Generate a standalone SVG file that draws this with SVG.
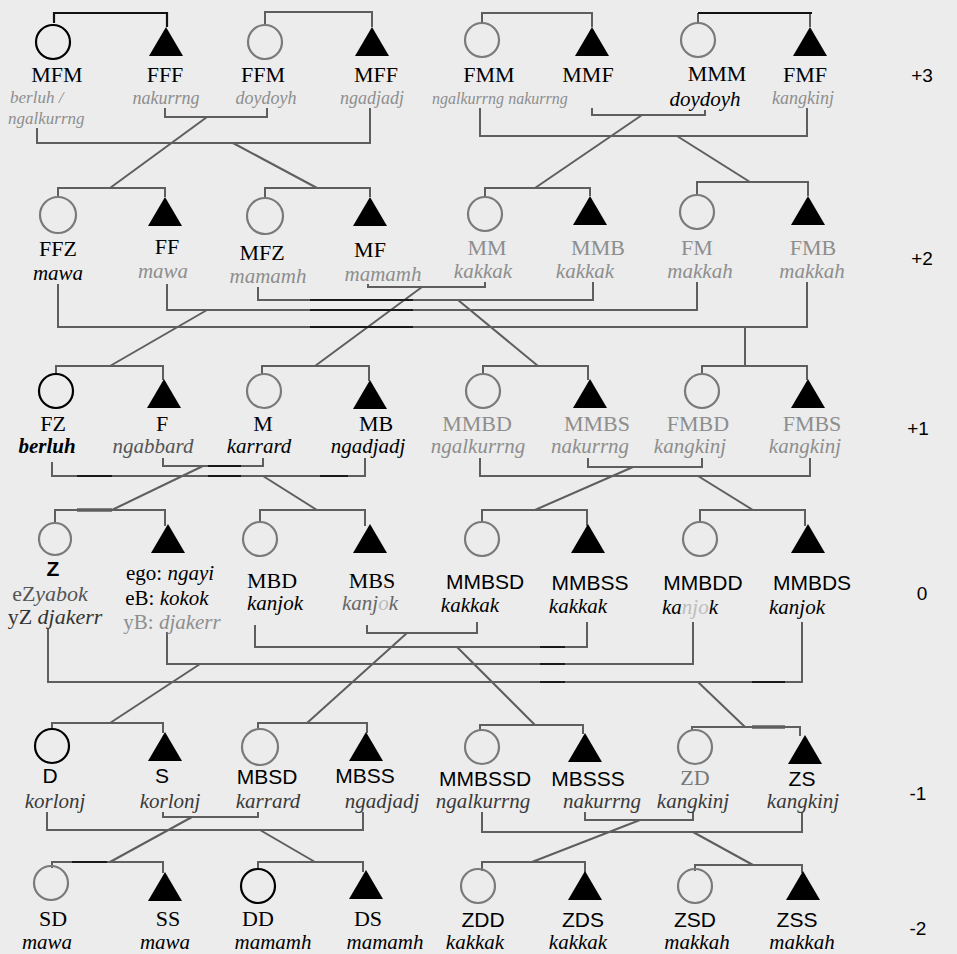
<svg xmlns="http://www.w3.org/2000/svg" width="957" height="954" viewBox="0 0 957 954">
<style>
.ln{fill:none;stroke:#5e5e5e;stroke-width:2}
.bk{fill:none;stroke:#111;stroke-width:2.2}
.dk{fill:none;stroke:#1a1a1a;stroke-width:2}
.cg{fill:none;stroke:#7a7a7a;stroke-width:2.2}
.cb{fill:none;stroke:#000;stroke-width:2.2}
.tri{fill:#000}
.lb{font-family:"Liberation Serif",serif;font-size:22px;text-anchor:middle;fill:#000}
.ls{font-family:"Liberation Sans",sans-serif;font-size:21px;text-anchor:middle;fill:#000}
.tm{font-family:"Liberation Serif",serif;font-style:italic;font-size:21px;text-anchor:middle;fill:#000}
.g{fill:#8e8e8e}
.m{fill:#3a3a3a}
.lv{font-family:"Liberation Sans",sans-serif;font-size:19px;text-anchor:middle;fill:#000}
</style>
<defs>
<path id="tr" d="M0,-15 L17,14 L-17,14 Z"/>
</defs>
<rect width="957" height="954" fill="#ececec"/>

<g id="connectors">
<path class="bk" d="M54,23 V13 H167 V27"/>
<path class="ln" d="M265,24 V12 H372 V27"/>
<path class="ln" d="M482,22 V13 H592 V27"/>
<path class="ln" d="M698,22 V13 M810,13 V27"/>
<path class="bk" d="M698,13 H812"/>
<path class="ln" d="M165,108 V117 H267 V108"/>
<path class="ln" d="M207,117 L110,188"/>
<path class="ln" d="M37,128 V143 H370 V108"/>
<path class="ln" d="M233,143 L317,188"/>
<path class="ln" d="M592,108 V115 H705 V110"/>
<path class="ln" d="M642,115 L535,188"/>
<path class="ln" d="M480,108 V136 H807 V108"/>
<path class="ln" d="M677,136 L750,182"/>
<path class="ln" d="M58,197 V188 H165 V197"/>
<path class="ln" d="M265,198 V188 H370 V197"/>
<path class="ln" d="M485,197 V188 H590 V196"/>
<path class="ln" d="M697,195 V182 H808 V196"/>
<path class="ln" d="M167,284 V310 H697 V282"/>
<path class="ln" d="M207,310 L110,366"/>
<path class="ln" d="M368,284 V287 H485 V282"/>
<path class="ln" d="M422,287 L315,366"/>
<path class="ln" d="M258,287 V300 H593 V282"/>
<path class="ln" d="M458,300 L538,366"/>
<path class="ln" d="M58,284 V327 H807 V282"/>
<path class="ln" d="M745,327 V366"/>
<path class="dk" d="M310,300 H413 M310,310 H413 M310,327 H413"/>
<path class="ln" d="M56,375 V366 H163 V380"/>
<path class="ln" d="M262,375 V366 H369 V381"/>
<path class="ln" d="M483,375 V366 H588 V380"/>
<path class="ln" d="M702,375 V366 H807 V380"/>
<path class="ln" d="M163,458 V466 H263 V458"/>
<path class="ln" d="M203,466 L112,510"/>
<path class="ln" d="M52,462 V476 H365 V458"/>
<path class="ln" d="M263,476 L317,510"/>
<path class="ln" d="M588,458 V467 H702 V458"/>
<path class="ln" d="M633,467 L535,510"/>
<path class="ln" d="M480,458 V476 H810 V458"/>
<path class="ln" d="M698,476 L753,510"/>
<path class="dk" d="M208,466 H241 M77,476 H112 M208,476 H241 M320,476 H348 M320,510 H348"/>
<path class="dk" d="M77,510 H112" style="stroke-width:3"/>
<path class="ln" d="M55,523 V510 H165 V526"/>
<path class="ln" d="M260,523 V510 H365 V526"/>
<path class="ln" d="M482,523 V510 H587 V526"/>
<path class="ln" d="M700,523 V510 H805 V526"/>
<path class="ln" d="M367,625 V633 H477 V622"/>
<path class="ln" d="M407,633 L307,723"/>
<path class="ln" d="M255,625 V647 H587 V622"/>
<path class="ln" d="M457,647 L535,725"/>
<path class="ln" d="M167,632 V664 H693 V622"/>
<path class="ln" d="M200,664 L110,723"/>
<path class="ln" d="M48,628 V682 H802 V622"/>
<path class="ln" d="M698,682 L745,727"/>
<path class="dk" d="M540,647 H565 M540,664 H565 M540,682 H565 M752,682 H785 M540,725 H565 M282,723 H308"/>
<path class="dk" d="M752,727 H785" style="stroke-width:3"/>
<path class="ln" d="M52,730 V723 H163 V733"/>
<path class="ln" d="M258,730 V723 H367 V733"/>
<path class="ln" d="M480,730 V725 H583 V734"/>
<path class="ln" d="M692,730 V727 H800 V736"/>
<path class="ln" d="M47,812 V830 H363 V812"/>
<path class="ln" d="M260,830 L315,862"/>
<path class="ln" d="M163,812 V817 H258 V812"/>
<path class="ln" d="M192,817 L110,862"/>
<path class="ln" d="M482,812 V832 H802 V812"/>
<path class="ln" d="M693,832 L753,865"/>
<path class="ln" d="M585,812 V820 H693 V812"/>
<path class="ln" d="M640,820 L532,862"/>
<path class="ln" d="M52,868 V862 H163 V873"/>
<path class="dk" d="M72,862 H107"/>
<path class="ln" d="M258,870 V862 H363 V872"/>
<path class="ln" d="M482,871 V862 H585 V873"/>
<path class="ln" d="M695,871 V865 H802 V873"/>
</g>

<g id="MFM"><circle class="cb" cx="53" cy="42" r="17"/><text class="lb" x="57" y="82">MFM</text><text class="tm g" x="10" y="103" style="text-anchor:start;font-size:17px">berluh /</text><text class="tm g" x="8" y="124" style="text-anchor:start;font-size:17px">ngalkurrng</text></g>
<g id="FFF"><use href="#tr" class="tri" x="166" y="42"/><text class="lb" x="165" y="82">FFF</text><text class="tm g" x="166" y="104" style="font-size:18px">nakurrng</text></g>
<g id="FFM"><circle class="cg" cx="265" cy="42" r="17"/><text class="lb" x="263" y="82">FFM</text><text class="tm g" x="266" y="104" style="font-size:18px">doydoyh</text></g>
<g id="MFF"><use href="#tr" class="tri" x="372" y="42"/><text class="lb" x="376" y="82">MFF</text><text class="tm g" x="372" y="104" style="font-size:18px">ngadjadj</text></g>
<g id="FMM"><circle class="cg" cx="482" cy="40" r="17"/><text class="lb" x="489" y="82">FMM</text><text class="tm g" x="468" y="104" style="font-size:16px">ngalkurrng</text></g>
<g id="MMF"><use href="#tr" class="tri" x="592" y="42"/><text class="lb" x="588" y="82">MMF</text><text class="tm g" x="538" y="104" style="font-size:16px">nakurrng</text></g>
<g id="MMM"><circle class="cg" cx="698" cy="40" r="17"/><text class="lb" x="717" y="81">MMM</text><text class="tm" x="705" y="106">doydoyh</text></g>
<g id="FMF"><use href="#tr" class="tri" x="810" y="42"/><text class="lb" x="805" y="82">FMF</text><text class="tm g" x="803" y="104" style="font-size:18px">kangkinj</text></g>

<g id="FFZ"><circle class="cg" cx="58" cy="215" r="18"/><text class="lb" x="58" y="256">FFZ</text><text class="tm" x="58" y="280">mawa</text></g>
<g id="FF"><use href="#tr" class="tri" x="165" y="212"/><text class="lb" x="167" y="254">FF</text><text class="tm g" x="163" y="278">mawa</text></g>
<g id="MFZ"><circle class="cg" cx="265" cy="216" r="18"/><text class="lb" x="262" y="260">MFZ</text><text class="tm g" x="268" y="283">mamamh</text></g>
<g id="MF"><use href="#tr" class="tri" x="370" y="212"/><text class="lb" x="370" y="257">MF</text><text class="tm g" x="383" y="281">mamamh</text></g>
<g id="MM"><circle class="cg" cx="485" cy="214" r="17"/><text class="lb g" x="487" y="255">MM</text><text class="tm g" x="483" y="278">kakkak</text></g>
<g id="MMB"><use href="#tr" class="tri" x="590" y="211"/><text class="lb g" x="598" y="255">MMB</text><text class="tm g" x="585" y="278">kakkak</text></g>
<g id="FM"><circle class="cg" cx="697" cy="212" r="17"/><text class="lb g" x="697" y="255">FM</text><text class="tm g" x="700" y="278">makkah</text></g>
<g id="FMB"><use href="#tr" class="tri" x="808" y="211"/><text class="lb g" x="813" y="255">FMB</text><text class="tm g" x="812" y="278">makkah</text></g>

<g id="FZ"><circle class="cb" cx="56" cy="391" r="17"/><text class="lb" x="53" y="431">FZ</text><text class="tm" x="47" y="453" style="font-weight:bold">berluh</text></g>
<g id="F"><use href="#tr" class="tri" x="164" y="394"/><text class="lb" x="162" y="431">F</text><text class="tm" x="153" y="453" style="fill:#555">ngabbard</text></g>
<g id="M"><circle class="cg" cx="264" cy="391" r="17"/><text class="lb" x="263" y="431">M</text><text class="tm" x="259" y="453">karrard</text></g>
<g id="MB"><use href="#tr" class="tri" x="370" y="395"/><text class="lb" x="376" y="431">MB</text><text class="tm" x="368" y="453">ngadjadj</text></g>
<g id="MMBD"><circle class="cg" cx="483" cy="391" r="17"/><text class="lb g" x="477" y="431">MMBD</text><text class="tm g" x="478" y="453">ngalkurrng</text></g>
<g id="MMBS"><use href="#tr" class="tri" x="590" y="394"/><text class="lb g" x="597" y="431">MMBS</text><text class="tm g" x="590" y="453">nakurrng</text></g>
<g id="FMBD"><circle class="cg" cx="702" cy="391" r="17"/><text class="lb g" x="698" y="431">FMBD</text><text class="tm g" x="690" y="453">kangkinj</text></g>
<g id="FMBS"><use href="#tr" class="tri" x="808" y="394"/><text class="lb g" x="812" y="431">FMBS</text><text class="tm g" x="805" y="453">kangkinj</text></g>

<g id="Z"><circle class="cg" cx="55" cy="539" r="16"/><text class="ls" x="53" y="576" style="font-weight:bold">Z</text><text class="lb" x="50" y="601" style="fill:#555">eZ<tspan font-style="italic">yabok</tspan></text><text class="lb" x="55" y="624" style="fill:#333">yZ <tspan font-style="italic">djakerr</tspan></text></g>
<g id="ego"><use href="#tr" class="tri" x="168" y="539"/><text class="lb" x="170" y="580" style="font-size:21px">ego: <tspan font-style="italic">ngayi</tspan></text><text class="lb" x="167" y="605" style="font-size:21px">eB: <tspan font-style="italic">kokok</tspan></text><text class="lb g" x="172" y="629" style="font-size:21px">yB: <tspan font-style="italic">djakerr</tspan></text></g>
<g id="MBD"><circle class="cg" cx="260" cy="539" r="17"/><text class="lb" x="272" y="588">MBD</text><text class="tm" x="275" y="610">kanjok</text></g>
<g id="MBS"><use href="#tr" class="tri" x="370" y="539"/><text class="lb" x="372" y="588">MBS</text><text class="tm" x="370" y="610" style="fill:#666">kanj<tspan fill="#bbb">o</tspan>k</text></g>
<g id="MMBSD"><circle class="cg" cx="482" cy="539" r="17"/><text class="ls" x="485" y="589">MMBSD</text><text class="tm" x="470" y="612">kakkak</text></g>
<g id="MMBSS"><use href="#tr" class="tri" x="588" y="539"/><text class="ls" x="590" y="590">MMBSS</text><text class="tm" x="578" y="613">kakkak</text></g>
<g id="MMBDD"><circle class="cg" cx="700" cy="539" r="17"/><text class="ls" x="703" y="590">MMBDD</text><text class="tm" x="690" y="614">ka<tspan fill="#bdbdbd">njo</tspan>k</text></g>
<g id="MMBDS"><use href="#tr" class="tri" x="808" y="539"/><text class="ls" x="812" y="590">MMBDS</text><text class="tm" x="797" y="614">kanjok</text></g>

<g id="D"><circle class="cb" cx="52" cy="746" r="17"/><text class="ls" x="50" y="783">D</text><text class="tm m" x="55" y="808">korlonj</text></g>
<g id="S"><use href="#tr" class="tri" x="165" y="747"/><text class="ls" x="162" y="783">S</text><text class="tm m" x="170" y="808">korlonj</text></g>
<g id="MBSD"><circle class="cg" cx="260" cy="747" r="18"/><text class="ls" x="267" y="784">MBSD</text><text class="tm m" x="268" y="808">karrard</text></g>
<g id="MBSS"><use href="#tr" class="tri" x="366" y="747"/><text class="ls" x="365" y="783">MBSS</text><text class="tm m" x="382" y="808">ngadjadj</text></g>
<g id="MMBSSD"><circle class="cg" cx="482" cy="747" r="17"/><text class="ls" x="485" y="786">MMBSSD</text><text class="tm m" x="483" y="808">ngalkurrng</text></g>
<g id="MBSSS"><use href="#tr" class="tri" x="585" y="748"/><text class="ls" x="588" y="786">MBSSS</text><text class="tm m" x="602" y="808">nakurrng</text></g>
<g id="ZD"><circle class="cg" cx="695" cy="747" r="17"/><text class="lb" x="695" y="785" style="fill:#777">ZD</text><text class="tm m" x="693" y="808">kangkinj</text></g>
<g id="ZS"><use href="#tr" class="tri" x="805" y="750"/><text class="ls" x="802" y="786">ZS</text><text class="tm m" x="803" y="808">kangkinj</text></g>

<g id="SD"><circle class="cg" cx="51" cy="883" r="17"/><text class="lb" x="53" y="926">SD</text><text class="tm" x="47" y="949">mawa</text></g>
<g id="SS"><use href="#tr" class="tri" x="165" y="887"/><text class="lb" x="168" y="926">SS</text><text class="tm" x="165" y="949">mawa</text></g>
<g id="DD"><circle class="cb" cx="258" cy="886" r="17"/><text class="lb" x="258" y="926">DD</text><text class="tm" x="273" y="949">mamamh</text></g>
<g id="DS"><use href="#tr" class="tri" x="366" y="885"/><text class="lb" x="368" y="926">DS</text><text class="tm" x="385" y="949">mamamh</text></g>
<g id="ZDD"><circle class="cg" cx="478" cy="886" r="17"/><text class="ls" x="483" y="927">ZDD</text><text class="tm" x="475" y="949">kakkak</text></g>
<g id="ZDS"><use href="#tr" class="tri" x="585" y="886"/><text class="ls" x="583" y="927">ZDS</text><text class="tm" x="578" y="949">kakkak</text></g>
<g id="ZSD"><circle class="cg" cx="695" cy="886" r="17"/><text class="ls" x="695" y="927">ZSD</text><text class="tm" x="697" y="949">makkah</text></g>
<g id="ZSS"><use href="#tr" class="tri" x="803" y="886"/><text class="ls" x="797" y="927">ZSS</text><text class="tm" x="802" y="949">makkah</text></g>

<g id="levels">
<text class="lv" x="922" y="82">+3</text>
<text class="lv" x="922" y="265">+2</text>
<text class="lv" x="918" y="435">+1</text>
<text class="lv" x="922" y="600">0</text>
<text class="lv" x="918" y="800">-1</text>
<text class="lv" x="918" y="935">-2</text>
</g>
</svg>
